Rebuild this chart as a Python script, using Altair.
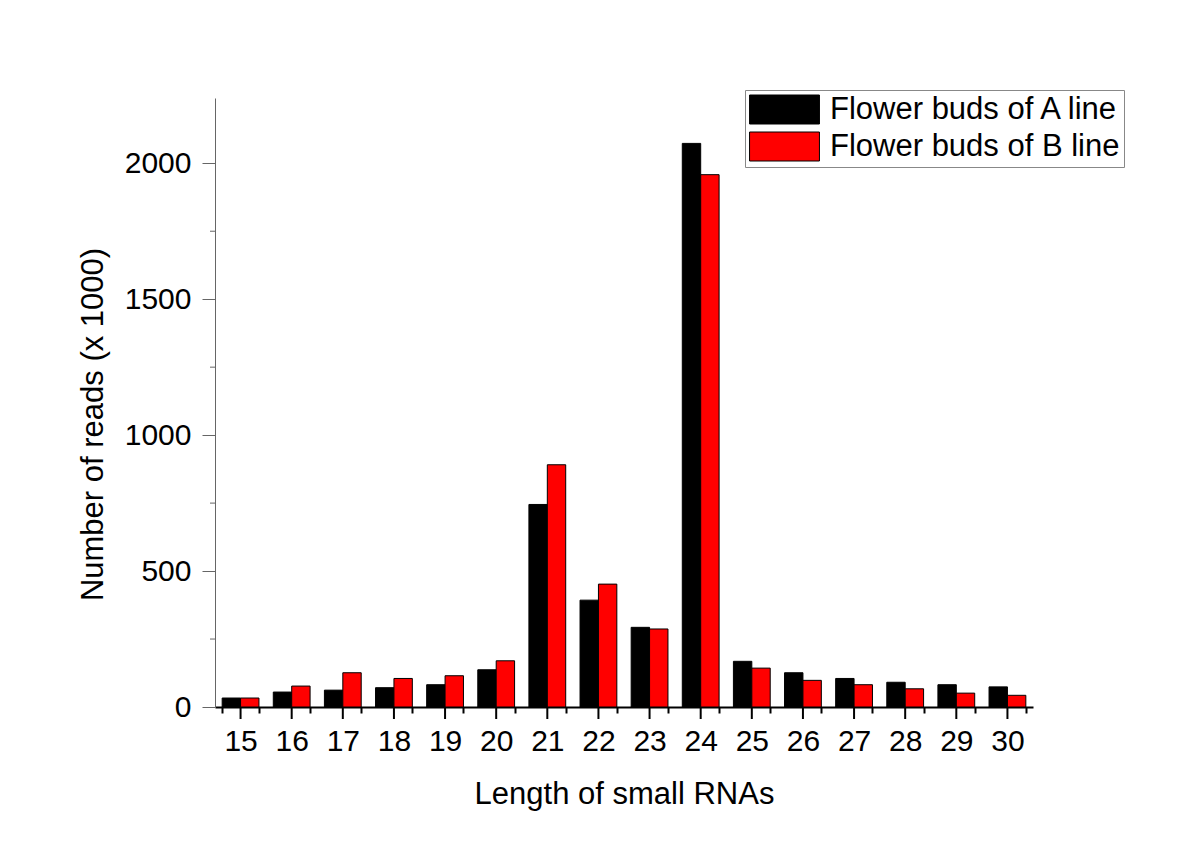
import altair as alt
import pandas as pd

lengths = [str(i) for i in range(15, 31)]
series_names = ["Flower buds of A line", "Flower buds of B line"]
series_colors = ["#000000", "#ff0000"]
reads_a = [33, 55, 62, 71, 82, 137, 745, 393, 293, 2073, 168, 126, 105, 91, 82, 74]
reads_b = [33, 77, 126, 105, 115, 170, 891, 452, 287, 1958, 143, 98, 82, 67, 51, 43]
y_major = [0, 500, 1000, 1500, 2000]
y_minor = [250, 750, 1250, 1750]

rows = []
for i, L in enumerate(lengths):
    rows.append({"len": L, "series": series_names[0], "reads": reads_a[i]})
    rows.append({"len": L, "series": series_names[1], "reads": reads_b[i]})
df = pd.DataFrame(rows)

FONT = "Liberation Sans"

bars = alt.Chart(df).mark_bar(stroke="black", strokeWidth=1).encode(
    x=alt.X(
        "len:N",
        sort=lengths,
        scale=alt.Scale(paddingInner=0.28, paddingOuter=0.14),
        axis=alt.Axis(
            title="Length of small RNAs",
            orient="bottom",
            labelAngle=0,
            tickBand="extent",
            tickSize=6,
            tickWidth=2,
            tickColor="black",
            domainColor="black",
            domainWidth=2,
            labelFontSize=30,
            labelFont=FONT,
            labelColor="black",
            labelPadding=13,
            titleFontSize=31,
            titleFont=FONT,
            titleFontWeight="normal",
            titleColor="black",
            titleY=96,
            titleBaseline="alphabetic",
        ),
    ),
    xOffset=alt.XOffset("series:N", sort=series_names,
                        scale=alt.Scale(paddingInner=0, paddingOuter=0)),
    y=alt.Y(
        "reads:Q",
        scale=alt.Scale(domain=[0, 2240], nice=False),
        axis=alt.Axis(
            title="Number of reads (x 1000)",
            orient="left",
            values=y_major,
            format="d",
            tickSize=13,
            tickColor="#666666",
            domainColor="#666666",
            domainWidth=1,
            labelFontSize=30,
            labelFont=FONT,
            labelColor="black",
            labelPadding=11,
            titleFontSize=31,
            titleFont=FONT,
            titleFontWeight="normal",
            titleColor="black",
            titleX=-122,
            titleY=326,
            titleBaseline="middle",
            grid=False,
        ),
    ),
    color=alt.Color(
        "series:N",
        sort=series_names,
        scale=alt.Scale(domain=series_names, range=series_colors),
        legend=alt.Legend(
            title=None,
            orient="none",
            legendX=530,
            legendY=-8,
            labelFontSize=31,
            labelFont=FONT,
            labelColor="black",
            labelLimit=500,
            symbolType="M-2.41,-1H2.41V1H-2.41Z",
            symbolSize=841,
            symbolStrokeColor="black",
            symbolStrokeWidth=1,
            symbolOpacity=1,
            symbolOffset=20,
            labelOffset=30,
            rowPadding=4,
            strokeColor="#888888",
            fillColor="white",
            padding=4,
        ),
    ),
)

center_ticks = alt.Chart(pd.DataFrame({"len": lengths})).mark_rule(
    color="black", strokeWidth=2
).encode(
    x=alt.X("len:N", sort=lengths, axis=None),
    y=alt.value(609),
    y2=alt.value(621),
)

minor_y = alt.Chart(pd.DataFrame({"reads": y_minor})).mark_rule(
    color="#666666", strokeWidth=1
).encode(
    y=alt.Y("reads:Q", axis=None),
    x=alt.value(-5),
    x2=alt.value(0),
)

chart = alt.layer(bars, center_ticks, minor_y).resolve_axis(
    x="independent", y="independent"
).properties(
    width=818,
    height=609,
    autosize=alt.AutoSizeParams(type="none"),
    padding={"left": 207, "top": 90, "right": 150, "bottom": 130},
    background="white",
).configure_view(stroke=None)

chart.save("out.html", embed_options={"renderer": "svg", "actions": False})
